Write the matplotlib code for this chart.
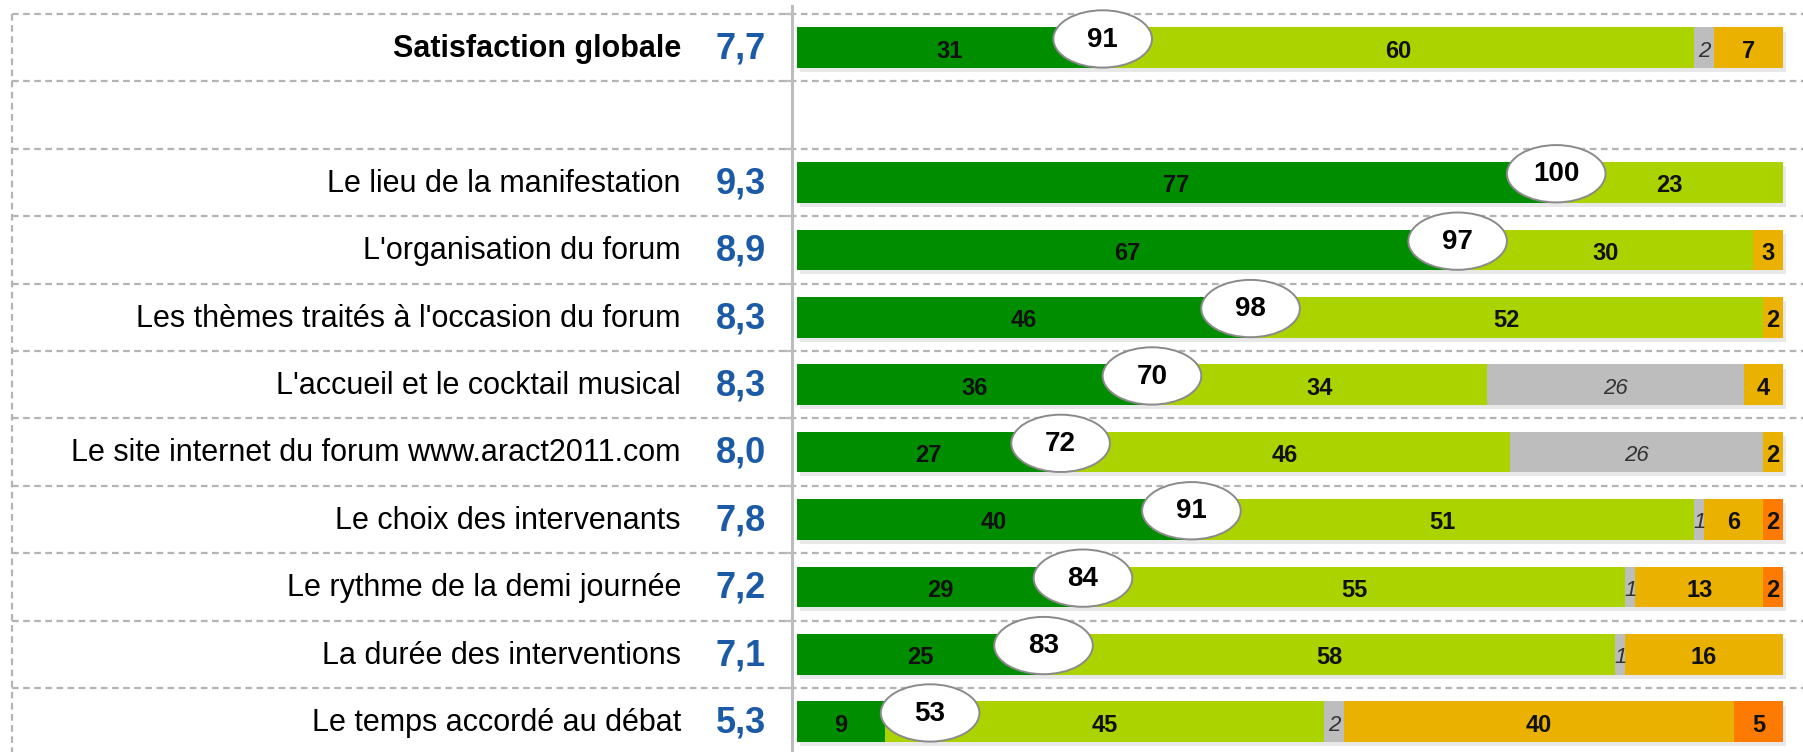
import numpy as np
import matplotlib
matplotlib.use("Agg")
import matplotlib.pyplot as plt
from matplotlib.patches import Ellipse

# ---------------------------------------------------------------------------
#  Data
# ---------------------------------------------------------------------------

labels = [
    "Satisfaction globale",
    "",
    "Le lieu de la manifestation",
    "L'organisation du forum",
    "Les thèmes traités à l'occasion du forum",
    "L'accueil et le cocktail musical",
    "Le site internet du forum www.aract2011.com",
    "Le choix des intervenants",
    "Le rythme de la demi journée",
    "La durée des interventions",
    "Le temps accordé au débat",
]
scores = ["7,7", "", "9,3", "8,9", "8,3", "8,3", "8,0", "7,8", "7,2", "7,1", "5,3"]

very_satisfied = [31, 0, 77, 67, 46, 36, 27, 40, 29, 25, 9]
satisfied = [60, 0, 23, 30, 52, 34, 46, 51, 55, 58, 45]
no_answer = [2, 0, 0, 0, 0, 26, 26, 1, 1, 1, 2]
not_satisfied = [7, 0, 0, 3, 2, 4, 2, 6, 13, 16, 40]
not_at_all = [0, 0, 0, 0, 0, 0, 0, 2, 2, 0, 5]
bubbles = [91, None, 100, 97, 98, 70, 72, 91, 84, 83, 53]

series = [very_satisfied, satisfied, no_answer, not_satisfied, not_at_all]
colors = ["#008d00", "#aad300", "#bdbdbd", "#ebb100", "#ff7a00"]

# ---------------------------------------------------------------------------
#  Layout (pixel geometry of the original picture)
# ---------------------------------------------------------------------------

W, H = 1803, 752
bar_x0, bar_x1 = 797, 1783      # 0 % and 100 % positions
top_line, row_h = 14, 67.4
px = (bar_x1 - bar_x0) / 100.0  # pixels per percent

fig = plt.figure(figsize=(W / 100, H / 100), dpi=100)
ax = fig.add_axes([0, 0, 1, 1])
ax.set_xlim(-bar_x0 / px, (W - bar_x0) / px)
ax.set_ylim(-0.5 + (H - top_line) / row_h, -0.5 - top_line / row_h)
ax.axis("off")

font = "Liberation Sans"
n = len(labels)
y = np.arange(n)

# dashed grid
x_left = (12 - bar_x0) / px
x_right = (W - bar_x0) / px
for i in range(n + 1):
    ax.plot([x_left, x_right], [i - 0.5, i - 0.5], color="#b4b4b4", lw=1.6,
            ls=(0, (3, 2)), zorder=1)
ax.plot([x_left, x_left], [-0.5, n], color="#b4b4b4", lw=1.6, ls=(0, (3, 2)), zorder=1)

# vertical axis line with small ticks
ax_x = (792 - bar_x0) / px
ax.plot([ax_x, ax_x], [-0.62, n], color="#bdbdbd", lw=2.2, zorder=2)
for i in range(n + 1):
    ax.plot([ax_x - 0.6, ax_x], [i - 0.5, i - 0.5], color="#bdbdbd", lw=1.6, zorder=2)

# stacked bars, normalised to 100 %
vals = np.array(series, dtype=float)
totals = vals.sum(axis=0)
has_bar = totals > 0
totals[~has_bar] = 1
widths = vals / totals * 100
bar_h = 0.6

# soft shadow under each bar
ax.barh(y[has_bar] + 0.06, np.full(has_bar.sum(), 100.0), left=0.3, height=bar_h,
        color="#d9d9d9", alpha=0.6, zorder=2.5)

left = np.zeros(n)
for k, (w, c) in enumerate(zip(widths, colors)):
    mask = vals[k] > 0
    ax.barh(y[mask], w[mask], left=left[mask], height=bar_h, color=c, zorder=3)
    for i in np.where(mask)[0]:
        xc = left[i] + w[i] / 2
        if k == 2:
            ax.text(xc, y[i] + 0.05, str(series[k][i]), ha="center", va="center",
                    fontsize=16, style="italic", color="#333333", family=font, zorder=4)
        else:
            ax.text(xc, y[i] + 0.05, str(series[k][i]), ha="center", va="center",
                    fontsize=17, fontweight="bold", color="#111111", family=font, zorder=4)
    left = left + w

# bubbles near the end of the dark green segment (kept clear of small labels)
for i, b in enumerate(bubbles):
    if b is None:
        continue
    xc = max(widths[0][i], 13.5)
    yc = y[i] - 0.13
    e = Ellipse((xc, yc), 10.0, 0.85, facecolor="white",
                edgecolor="#8a8a8a", lw=1.4, zorder=5)
    ax.add_patch(e)
    ax.text(xc, yc + 0.01, str(b), ha="center", va="center", fontsize=20,
            fontweight="bold", color="black", family=font, zorder=6)

# row labels and mean scores
lab_x = (681 - bar_x0) / px
score_x = (741 - bar_x0) / px
for i in range(n):
    if not labels[i]:
        continue
    ax.text(lab_x, y[i] + 0.02, labels[i], ha="right", va="center", fontsize=22,
            fontweight="bold" if i == 0 else "normal", color="black", family=font)
    ax.text(score_x, y[i] + 0.02, scores[i], ha="center", va="center", fontsize=26,
            fontweight="bold", color="#1b5aa6", family=font)

fig.savefig("out.png", dpi=100)
